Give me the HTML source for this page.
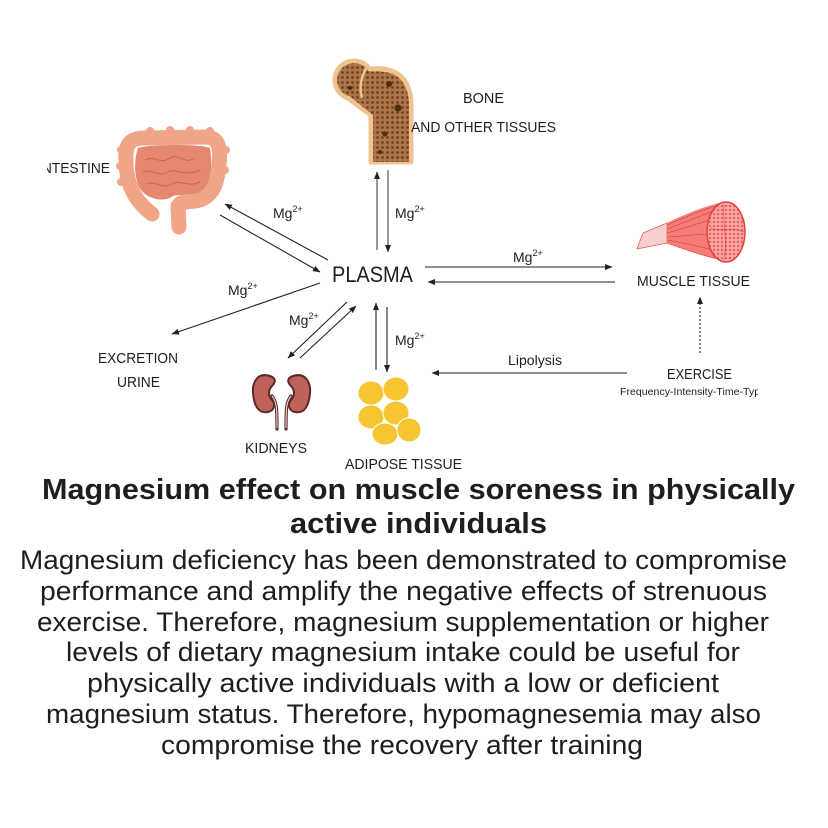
<!DOCTYPE html>
<html>
<head>
<meta charset="utf-8">
<style>
  html,body{margin:0;padding:0;background:#fff;}
  svg{display:block;}
  text{font-family:"Liberation Sans", sans-serif; fill:#1e1e1e;}
</style>
</head>
<body>
<svg width="828" height="828" viewBox="0 0 828 828" xmlns="http://www.w3.org/2000/svg">
  <defs>
    <marker id="ah" markerWidth="8" markerHeight="6" refX="7" refY="3" orient="auto" markerUnits="userSpaceOnUse">
      <path d="M0,0 L7.5,3 L0,6 Z" fill="#222"/>
    </marker>
    <pattern id="spongy" width="5" height="5" patternUnits="userSpaceOnUse">
      <rect width="5" height="5" fill="#ac7649"/>
      <circle cx="2.5" cy="2.5" r="1.4" fill="#714322"/>
    </pattern>
    <pattern id="mdots" width="4" height="4" patternUnits="userSpaceOnUse">
      <rect width="4" height="4" fill="#f7a3a0"/>
      <circle cx="2" cy="2" r="0.9" fill="#e3302d"/>
    </pattern>
    <clipPath id="clipL"><rect x="47" y="0" width="200" height="828"/></clipPath>
    <clipPath id="clipR"><rect x="600" y="0" width="158" height="828"/></clipPath>
  </defs>

  <!-- BONE -->
  <g stroke="#efc390" stroke-width="5" fill="#efc390" stroke-linejoin="round">
    <circle cx="354" cy="80" r="19"/>
    <path d="M344,95 L362,68 L372,70 L372,116 Z"/>
    <path d="M356,96 C367,101 371,108 371,118 L371,162 L411,162 L411,104 C411,88 404,76 394,72 C385,68 374,68 364,70 Z"/>
  </g>
  <g fill="url(#spongy)">
    <circle cx="354" cy="80" r="17"/>
    <path d="M347,94 L363,70 L374,72 L374,116 Z"/>
    <path d="M358,96 C369,102 373,108 373,118 L373,162 L409,162 L409,104 C409,89 402,78 393,74 C385,71 375,71 366,72 Z"/>
  </g>
  <path d="M368,65 C361,76 359,87 362,98" fill="none" stroke="#efc390" stroke-width="2.5"/>
  <circle cx="389" cy="84" r="3" fill="#4e2c12"/>
  <circle cx="398" cy="108" r="3.5" fill="#4e2c12"/>
  <circle cx="385" cy="134" r="2.5" fill="#4e2c12"/>
  <circle cx="350" cy="88" r="2" fill="#4e2c12"/>
  <circle cx="380" cy="152" r="2" fill="#4e2c12"/>

  <!-- INTESTINE -->
  <path d="M138,148 C150,144 202,144 210,148 C213,170 211,188 198,194 C186,198 177,192 170,198 C160,202 145,198 139,187 C134,175 134,160 138,148 Z" fill="#e4896f"/>
  <path d="M145,160 C155,155 160,165 170,158 C178,153 185,165 195,158 M143,172 C152,168 158,178 168,172 C176,167 184,178 200,170 M147,184 C156,180 162,190 172,184 C180,179 188,188 200,182"
        fill="none" stroke="#c8664f" stroke-width="1"/>
  <path d="M152,214 C140,205 126,190 126,160 C125,143 131,138 145,138 L205,137 C218,137 221,146 219,165 C217,185 213,195 200,200 C190,203 182,200 178,206 L179,227"
        fill="none" stroke="#f1a588" stroke-width="15" stroke-linecap="round" stroke-linejoin="round"/>
  <g fill="#f1a588">
    <circle cx="121" cy="150" r="4"/><circle cx="120" cy="166" r="4"/><circle cx="121" cy="182" r="4"/>
    <circle cx="150" cy="131" r="4"/><circle cx="170" cy="130" r="4"/><circle cx="190" cy="130" r="4"/><circle cx="210" cy="131" r="4"/>
    <circle cx="226" cy="150" r="4"/><circle cx="225" cy="170" r="4"/>
  </g>

  <!-- MUSCLE -->
  <path d="M643,233 L667,223 L667,243 L637,249 Z" fill="#f8cfcc" stroke="#e9605b" stroke-width="0.8"/>
  <path d="M667,223 C685,214 705,206 724,202 L730,262 C710,258 685,250 667,243 Z" fill="#f37d78"/>
  <g stroke="#e2332f" stroke-width="0.6" fill="none">
    <path d="M667,225 C685,217 705,209 722,204"/>
    <path d="M667,229 C686,222 705,214 716,210"/>
    <path d="M667,233 C686,228 702,222 710,220"/>
    <path d="M667,237 C686,236 700,234 708,234"/>
    <path d="M667,240 C686,243 700,247 710,249"/>
    <path d="M667,243 C686,250 704,256 718,259"/>
  </g>
  <ellipse cx="726" cy="232" rx="19" ry="30" fill="url(#mdots)" stroke="#e8403f" stroke-width="1.5"/>
  <path d="M710,228 C720,232 732,226 744,232 M724,204 C722,220 728,240 724,260" fill="none" stroke="#e8403f" stroke-width="0.6"/>

  <!-- KIDNEYS -->
  <g stroke="#5b2b28" stroke-width="3.2" fill="none" stroke-linecap="round">
    <path d="M272,396 C277,402 277,410 277,429"/>
    <path d="M291,396 C286,402 286,410 286,429"/>
  </g>
  <g stroke="#ecd7cf" stroke-width="1.1" fill="none">
    <path d="M272,396 C277,402 277,410 277,428"/>
    <path d="M291,396 C286,402 286,410 286,428"/>
  </g>
  <path d="M270,376 C258,372 252,382 253,393 C254,405 258,414 268,412 C274,411 276,404 272,400 C268,396 268,390 272,386 C276,382 276,378 270,376 Z" fill="#bf625c" stroke="#5b2b28" stroke-width="2"/>
  <path d="M293,376 C305,372 311,382 310,393 C309,405 305,414 295,412 C289,411 287,404 291,400 C295,396 295,390 291,386 C287,382 287,378 293,376 Z" fill="#bf625c" stroke="#5b2b28" stroke-width="2"/>

  <!-- ADIPOSE -->
  <g fill="#f7c531" stroke="#fff" stroke-width="1">
    <ellipse cx="371" cy="393" rx="13" ry="12"/>
    <ellipse cx="396" cy="389" rx="13" ry="12"/>
    <ellipse cx="371" cy="417" rx="13" ry="12"/>
    <ellipse cx="396" cy="413" rx="13" ry="12"/>
    <ellipse cx="385" cy="434" rx="13" ry="11"/>
    <ellipse cx="409" cy="430" rx="12" ry="12"/>
  </g>

  <!-- ARROWS -->
  <g stroke="#222" stroke-width="1.1" fill="none" marker-end="url(#ah)">
    <line x1="328" y1="260" x2="225" y2="204"/>
    <line x1="220" y1="215" x2="320" y2="272"/>
    <line x1="377" y1="250" x2="377" y2="172" stroke="#444"/>
    <line x1="388" y1="170" x2="388" y2="252" stroke="#444"/>
    <line x1="425" y1="267" x2="612" y2="267"/>
    <line x1="615" y1="282" x2="428" y2="282"/>
    <line x1="320" y1="283" x2="172" y2="334"/>
    <line x1="347" y1="302" x2="288" y2="358"/>
    <line x1="300" y1="358" x2="356" y2="306"/>
    <line x1="376" y1="370" x2="376" y2="303"/>
    <line x1="387" y1="307" x2="387" y2="372"/>
    <line x1="627" y1="373" x2="432" y2="373"/>
    <line x1="700" y1="353" x2="700" y2="297" stroke-dasharray="2,2"/>
  </g>

  <!-- LABELS -->
  <text x="332" y="282" font-size="22" textLength="81" lengthAdjust="spacingAndGlyphs">PLASMA</text>
  <text x="463" y="103" font-size="15" textLength="41" lengthAdjust="spacingAndGlyphs">BONE</text>
  <text x="411" y="132" font-size="15" textLength="145" lengthAdjust="spacingAndGlyphs">AND OTHER TISSUES</text>
  <g clip-path="url(#clipL)">
    <text x="110" y="173" font-size="15" text-anchor="end" textLength="72" lengthAdjust="spacingAndGlyphs">INTESTINE</text>
  </g>
  <text x="637" y="286" font-size="15" textLength="113" lengthAdjust="spacingAndGlyphs">MUSCLE TISSUE</text>
  <text x="667" y="379" font-size="15" textLength="65" lengthAdjust="spacingAndGlyphs">EXERCISE</text>
  <g clip-path="url(#clipR)">
    <text x="620" y="395" font-size="10.5" textLength="146" lengthAdjust="spacingAndGlyphs">Frequency-Intensity-Time-Type</text>
  </g>
  <text x="508" y="365" font-size="14" textLength="54" lengthAdjust="spacingAndGlyphs">Lipolysis</text>
  <text x="98" y="363" font-size="15" textLength="80" lengthAdjust="spacingAndGlyphs">EXCRETION</text>
  <text x="117" y="387" font-size="15" textLength="43" lengthAdjust="spacingAndGlyphs">URINE</text>
  <text x="245" y="453" font-size="15" textLength="62" lengthAdjust="spacingAndGlyphs">KIDNEYS</text>
  <text x="345" y="469" font-size="15" textLength="117" lengthAdjust="spacingAndGlyphs">ADIPOSE TISSUE</text>

  <!-- Mg2+ labels -->
  <g font-size="14">
    <text x="273" y="218">Mg<tspan dy="-6" font-size="9">2+</tspan></text>
    <text x="395" y="218">Mg<tspan dy="-6" font-size="9">2+</tspan></text>
    <text x="513" y="262">Mg<tspan dy="-6" font-size="9">2+</tspan></text>
    <text x="228" y="295">Mg<tspan dy="-6" font-size="9">2+</tspan></text>
    <text x="289" y="325">Mg<tspan dy="-6" font-size="9">2+</tspan></text>
    <text x="395" y="345">Mg<tspan dy="-6" font-size="9">2+</tspan></text>
  </g>

  <!-- TITLE -->
  <g font-weight="bold" font-size="29">
    <text x="42" y="499" textLength="753" lengthAdjust="spacingAndGlyphs">Magnesium effect on muscle soreness in physically</text>
    <text x="290" y="533" textLength="257" lengthAdjust="spacingAndGlyphs">active individuals</text>
  </g>

  <!-- BODY -->
  <g font-size="26.5" style="fill:#262626">
    <text x="20" y="569" textLength="767" lengthAdjust="spacingAndGlyphs">Magnesium deficiency has been demonstrated to compromise</text>
    <text x="40" y="600" textLength="727" lengthAdjust="spacingAndGlyphs">performance and amplify the negative effects of strenuous</text>
    <text x="37" y="631" textLength="732" lengthAdjust="spacingAndGlyphs">exercise. Therefore, magnesium supplementation or higher</text>
    <text x="66" y="661" textLength="674" lengthAdjust="spacingAndGlyphs">levels of dietary magnesium intake could be useful for</text>
    <text x="87" y="692" textLength="632" lengthAdjust="spacingAndGlyphs">physically active individuals with a low or deficient</text>
    <text x="46" y="723" textLength="715" lengthAdjust="spacingAndGlyphs">magnesium status. Therefore, hypomagnesemia may also</text>
    <text x="161" y="754" textLength="482" lengthAdjust="spacingAndGlyphs">compromise the recovery after training</text>
  </g>
</svg>
</body>
</html>
